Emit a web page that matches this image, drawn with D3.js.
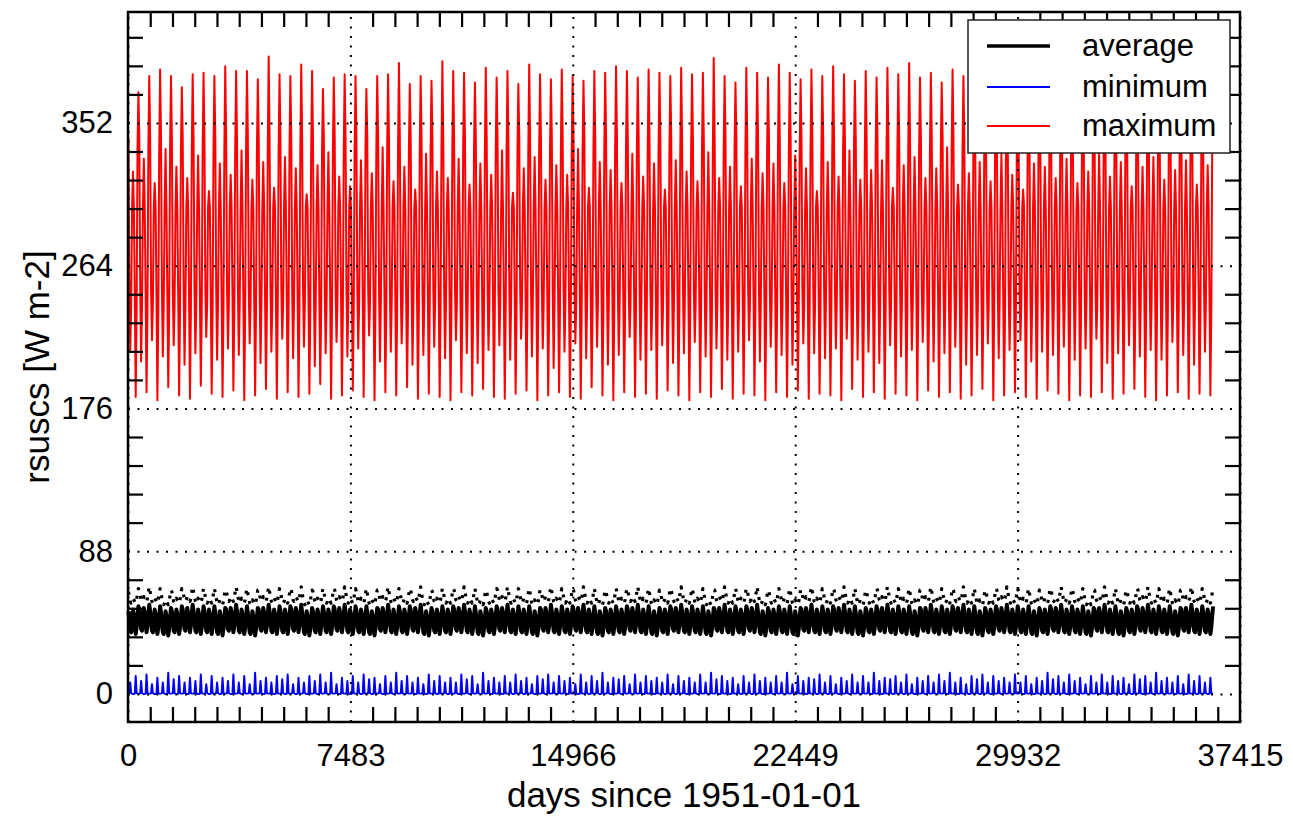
<!DOCTYPE html>
<html>
<head>
<meta charset="utf-8">
<script src="https://cdn.jsdelivr.net/npm/d3@7"></script>
<style>
  html, body { margin: 0; padding: 0; background: #fff; }
  svg { display: block; }
  text { font-family: "Liberation Sans", Arial, Helvetica, sans-serif; fill: #000; }
</style>
</head>
<body>
<svg id="chart" width="1293" height="817"></svg>
<script>
// ---------------- data ----------------
const startYear = 1951;
const nYears = 100;                       // monthly data 1951-01 .. 2050-12
const xTickValues = [0, 7483, 14966, 22449, 29932, 37415];
const xTickLabels = ["0", "7483", "14966", "22449", "29932", "37415"];
const yTickValues = [0, 88, 176, 264, 352];
const yTickLabels = ["0", "88", "176", "264", "352"];
const legendLabels = ["average", "minimum", "maximum"];

// maximum: monthly climatological shape (Jan..Dec)
const maxClim = [343, 250, 205, 240, 300, 322, 300, 245, 185, 235, 335, 383];
// maximum: yearly December peaks
const maxDecPeak = [
  371,381,385,381,374,382,383,381,387,384,
  384,379,393,382,381,388,384,373,380,382,
  381,373,381,382,389,376,381,378,390,384,
  383,377,386,380,384,376,388,382,379,385,
  381,378,384,383,387,384,380,385,383,381,
  386,382,383,392,381,377,386,383,380,388,
  383,379,385,381,387,382,378,384,380,386,
  382,389,380,383,377,385,381,384,388,380,
  383,379,386,382,380,385,378,383,387,381,
  384,380,386,382,379,385,383,381,384,382];
// maximum: yearly September lows
const maxSepLow = [
  183,186,181,189,184,182,190,185,183,187,
  181,184,188,182,186,183,185,191,182,184,
  187,183,181,186,184,189,182,185,183,181,
  186,184,188,183,182,185,187,181,184,186,
  183,182,189,184,181,186,183,185,182,187,
  184,181,186,183,188,182,185,184,181,186,
  183,187,182,185,184,181,188,183,186,182,
  185,184,181,187,183,186,182,184,188,181,
  184,186,183,182,187,185,181,184,183,186,
  182,185,188,183,181,184,186,182,185,184];
// maximum: yearly March lows
const maxMarLow = [
  212,205,218,208,215,203,210,220,206,213,
  209,216,204,211,219,207,214,202,210,217,
  208,213,221,205,211,216,203,209,214,207,
  218,210,204,212,215,206,219,208,213,201,
  211,216,207,214,203,209,220,206,212,215,
  204,210,217,208,213,206,211,218,205,214,
  209,203,216,210,207,213,219,206,211,204,
  215,208,212,217,205,210,214,203,209,216,
  207,212,218,205,211,209,214,206,213,219,
  204,210,215,208,212,206,217,209,203,211];
// maximum: yearly June highs
const maxJunHigh = [
  322,330,315,336,325,318,332,310,327,320,
  335,317,328,312,331,324,308,326,334,319,
  313,329,321,337,316,325,311,333,322,318,
  330,314,327,320,335,309,324,331,317,326,
  320,336,312,328,323,315,333,319,327,311,
  329,322,316,334,318,325,313,330,321,327,
  315,332,324,310,328,319,335,317,323,329,
  312,326,331,318,324,337,314,321,328,316,
  333,320,311,327,325,318,330,315,322,334,
  319,328,313,325,331,317,323,329,314,326];

// minimum: monthly shape and yearly spike heights
const minClim = [0.3, 0.5, 7, 0.5, 0.2, 0, 0, 0.2, 11, 0.5, 0.3, 0.2];
const minSepSpike = [
  11,12,10,13,11,10,12,11,10,12,
  11,13,10,11,12,10,11,12,13,10,
  11,12,10,11,13,11,10,12,11,10,
  12,11,13,10,11,12,10,11,12,11,
  10,12,11,13,10,11,12,11,10,12,
  11,10,12,13,11,10,11,12,10,11,
  13,11,10,12,11,10,12,11,13,10,
  11,12,10,11,12,13,10,11,12,11,
  10,12,11,10,13,11,12,10,11,12,
  11,10,12,11,13,10,11,12,11,10];
const minMarSpike = [
  7,8,6,7,9,7,8,6,7,8,
  7,6,8,7,9,6,7,8,7,6,
  8,7,9,6,7,8,7,6,8,7,
  7,9,6,8,7,7,8,6,9,7,
  8,6,7,8,7,9,6,7,8,7,
  6,8,7,7,9,8,6,7,8,7,
  7,6,8,9,7,6,8,7,7,8,
  9,7,6,8,7,8,7,6,9,7,
  8,7,7,6,8,9,7,8,6,7,
  7,8,6,9,7,8,7,6,8,7];

// average: monthly shape and yearly means
const avgClim = [51, 45, 39, 38, 45, 52, 49, 42, 37, 41, 48, 54];
const avgYearMean = [
  45,46,45,44,45,46,45,45,44,46,
  45,44,46,45,45,46,44,45,45,46,
  45,45,44,46,45,45,46,44,45,45,
  46,45,44,45,46,45,45,44,46,45,
  45,46,45,44,45,45,46,45,44,45,
  46,45,45,44,46,45,45,46,44,45,
  45,44,46,45,45,46,45,44,45,46,
  45,45,44,46,45,45,46,45,44,45,
  46,45,45,44,45,46,45,45,44,46,
  45,44,45,46,45,45,44,46,45,45];
// dotted black curve above the average
const dotClim = [63, 60, 57, 56, 57, 59, 58, 57, 56, 58, 62, 65];

// ---------------- build monthly series ----------------
const daysPerMonth = 365.25 / 12;
function build(fn) {
  const out = [];
  for (let y = 0; y < nYears; y++)
    for (let m = 0; m < 12; m++)
      out.push({ t: 15.2 + (y * 12 + m) * daysPerMonth, v: fn(y, m) });
  return out;
}
const maxSeries = build((y, m) =>
  m === 11 ? maxDecPeak[y] : m === 8 ? maxSepLow[y] : m === 2 ? maxMarLow[y] :
  m === 5 ? maxJunHigh[y] : maxClim[m]);
const minSeries = build((y, m) =>
  m === 8 ? minSepSpike[y] : m === 2 ? minMarSpike[y] : minClim[m]);
const avgSeries = build((y, m) => avgClim[m] + (avgYearMean[y] - 45));
const dotSeries = build((y, m) => dotClim[m] + (avgYearMean[y] - 45));

// ---------------- layout ----------------
const L = 128, R = 1240, T = 12, B = 722;
const FONT = '"Liberation Sans", Arial, Helvetica, sans-serif';
const svg = d3.select("#chart");
svg.append("rect").attr("width", 1293).attr("height", 817).attr("fill", "#fff");

const x = d3.scaleLinear().domain([0, 37415]).range([L, R]);
const y = d3.scaleLinear().domain([-17.3, 420.4]).range([B, T]);

const line = d3.line().x(d => x(d.t)).y(d => y(d.v));

// series
svg.append("path").datum(maxSeries).attr("d", line)
  .attr("fill", "none").attr("stroke", "#ff0000").attr("stroke-width", 2)
  .attr("stroke-linejoin", "round");
svg.append("path").datum(minSeries).attr("d", line)
  .attr("fill", "none").attr("stroke", "#0000ff").attr("stroke-width", 2)
  .attr("stroke-linejoin", "round");
svg.append("path").datum(dotSeries).attr("d", line)
  .attr("fill", "none").attr("stroke", "#000").attr("stroke-width", 3.2)
  .attr("stroke-linejoin", "round").attr("stroke-dasharray", "3,6");
svg.append("path").datum(avgSeries).attr("d", line)
  .attr("fill", "none").attr("stroke", "#000").attr("stroke-width", 4)
  .attr("stroke-linejoin", "round");

// minor ticks
const xMinor = d3.range(0, 51).map(i => i * 748.3).filter(v => !xTickValues.some(t => Math.abs(t - v) < 1));
const yMinor = d3.range(1, 24).map(i => i * 17.6).filter(v => v < 420 && !yTickValues.some(t => Math.abs(t - v) < 0.1));

function minorAxis(axis, tr) {
  const g = svg.append("g").attr("transform", tr).call(axis);
  g.select(".domain").remove();
  g.selectAll("line").attr("stroke", "#000").attr("stroke-width", 2.2);
  g.selectAll("text").remove();
}
minorAxis(d3.axisBottom(x).tickValues(xMinor).tickSize(-15).tickFormat(""), `translate(0,${B})`);
minorAxis(d3.axisTop(x).tickValues(xMinor).tickSize(-15).tickFormat(""), `translate(0,${T})`);
minorAxis(d3.axisLeft(y).tickValues(yMinor).tickSize(-15).tickFormat(""), `translate(${L},0)`);
minorAxis(d3.axisRight(y).tickValues(yMinor).tickSize(-15).tickFormat(""), `translate(${R},0)`);

// dotted grid at major ticks
const gx = svg.append("g").attr("transform", `translate(0,${B})`)
  .call(d3.axisBottom(x).tickValues(xTickValues).tickSize(-(B - T)).tickFormat(""));
gx.select(".domain").remove();
gx.selectAll("line").attr("stroke", "#000").attr("stroke-width", 2).attr("stroke-dasharray", "2,7.5");
const gy = svg.append("g").attr("transform", `translate(${L},0)`)
  .call(d3.axisLeft(y).tickValues(yTickValues).tickSize(-(R - L)).tickFormat(""));
gy.select(".domain").remove();
gy.selectAll("line").attr("stroke", "#000").attr("stroke-width", 2).attr("stroke-dasharray", "2,7.5");

// tick labels
const xl = svg.append("g").attr("transform", `translate(0,${B})`)
  .call(d3.axisBottom(x).tickValues(xTickValues).tickSize(0).tickPadding(22)
    .tickFormat((d, i) => xTickLabels[i]));
xl.select(".domain").remove();
xl.selectAll("text").attr("font-size", 31).style("font-family", FONT);

const yl = svg.append("g").attr("transform", `translate(${L},0)`)
  .call(d3.axisLeft(y).tickValues(yTickValues).tickSize(0).tickPadding(15)
    .tickFormat((d, i) => yTickLabels[i]));
yl.select(".domain").remove();
yl.selectAll("text").attr("font-size", 31).style("font-family", FONT);

// frame
svg.append("rect").attr("x", L).attr("y", T).attr("width", R - L).attr("height", B - T)
  .attr("fill", "none").attr("stroke", "#000").attr("stroke-width", 2.5);

// axis titles
svg.append("text").attr("x", (L + R) / 2).attr("y", 807).attr("text-anchor", "middle")
  .attr("font-size", 35).text("days since 1951-01-01");
svg.append("text").attr("transform", `translate(49,${(T + B) / 2}) rotate(-90)`)
  .attr("text-anchor", "middle").attr("font-size", 35).text("rsuscs [W m-2]");

// legend
const lg = svg.append("g");
lg.append("rect").attr("x", 968).attr("y", 20).attr("width", 262).attr("height", 133)
  .attr("fill", "#fff").attr("stroke", "#222").attr("stroke-width", 1.5);
const legendColors = ["#000", "#0000ff", "#ff0000"];
const legendWidths = [3.5, 2, 2];
const legendY = [46, 87, 126];
legendLabels.forEach((lab, i) => {
  lg.append("line").attr("x1", 987).attr("x2", 1050).attr("y1", legendY[i]).attr("y2", legendY[i])
    .attr("stroke", legendColors[i]).attr("stroke-width", legendWidths[i]);
  lg.append("text").attr("x", 1082).attr("y", legendY[i] + 10).attr("font-size", 31).text(lab);
});
</script>
</body>
</html>
